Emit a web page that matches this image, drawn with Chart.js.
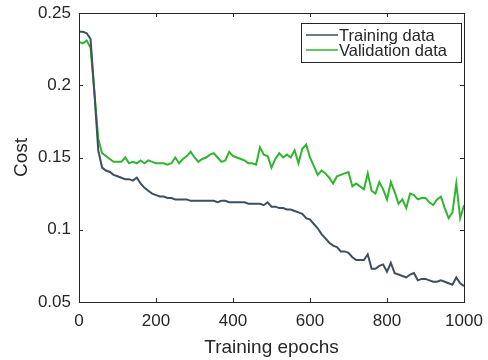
<!DOCTYPE html>
<html>
<head>
<meta charset="utf-8">
<script src="https://cdn.jsdelivr.net/npm/chart.js@4.4.0/dist/chart.umd.min.js"></script>
<style>
  body { margin: 0; background: #fff; }
  #wrap { width: 488px; height: 360px; }
</style>
</head>
<body>
<div id="wrap"><canvas id="costChart" width="488" height="360"></canvas></div>
<script>
// Data (every 10 epochs)
const epochs = [];
for (let e = 0; e <= 1000; e += 10) epochs.push(e);

const trainingCost = [
  0.237, 0.237, 0.236, 0.232, 0.195, 0.155, 0.143, 0.141, 0.140, 0.138,
  0.137, 0.136, 0.135, 0.135, 0.134, 0.136, 0.132, 0.129, 0.127, 0.125,
  0.124, 0.123, 0.123, 0.122, 0.122, 0.121, 0.121, 0.121, 0.121, 0.120,
  0.120, 0.120, 0.120, 0.120, 0.120, 0.120, 0.119, 0.120, 0.120, 0.119,
  0.119, 0.119, 0.119, 0.119, 0.118, 0.118, 0.118, 0.118, 0.117, 0.119,
  0.116, 0.116, 0.115, 0.115, 0.114, 0.114, 0.113, 0.112, 0.111, 0.108,
  0.107, 0.104, 0.101, 0.097, 0.094, 0.091, 0.089, 0.088, 0.085, 0.085,
  0.084, 0.081, 0.079, 0.079, 0.079, 0.083, 0.073, 0.073, 0.075, 0.076,
  0.071, 0.077, 0.070, 0.069, 0.068, 0.067, 0.069, 0.070, 0.065, 0.066,
  0.066, 0.065, 0.064, 0.064, 0.065, 0.064, 0.063, 0.062, 0.067, 0.063,
  0.061
];

const validationCost = [
  0.230, 0.229, 0.231, 0.226, 0.195, 0.163, 0.153, 0.151, 0.149, 0.147,
  0.147, 0.147, 0.150, 0.146, 0.147, 0.146, 0.148, 0.146, 0.148, 0.147,
  0.146, 0.146, 0.146, 0.145, 0.146, 0.150, 0.146, 0.149, 0.151, 0.154,
  0.150, 0.147, 0.149, 0.150, 0.152, 0.153, 0.150, 0.147, 0.148, 0.154,
  0.151, 0.150, 0.149, 0.148, 0.146, 0.146, 0.145, 0.157, 0.152, 0.151,
  0.143, 0.149, 0.153, 0.150, 0.152, 0.150, 0.155, 0.146, 0.156, 0.159,
  0.150, 0.144, 0.138, 0.141, 0.139, 0.136, 0.132, 0.137, 0.138, 0.139,
  0.140, 0.130, 0.132, 0.130, 0.128, 0.139, 0.127, 0.125, 0.133, 0.128,
  0.121, 0.133, 0.126, 0.118, 0.121, 0.115, 0.125, 0.124, 0.121, 0.122,
  0.122, 0.119, 0.117, 0.121, 0.123, 0.115, 0.108, 0.112, 0.132, 0.108,
  0.117
];

const xTicks = [0, 200, 400, 600, 800, 1000];
const yTicks = [0.05, 0.1, 0.15, 0.2, 0.25];
const seriesNames = ['Training data', 'Validation data'];

const trainColor = '#3e4f5e';
const validColor = '#2fb52f';
const axisColor = '#262626';
const fontFamily = '"Liberation Sans", Arial, sans-serif';

function toPoints(values) {
  return values.map((v, i) => ({ x: epochs[i], y: v }));
}

// MATLAB style box with inward ticks on all four sides
const boxPlugin = {
  id: 'boxPlugin',
  afterDatasetsDraw(chart) {
    const { ctx, chartArea: a, scales } = chart;
    const len = 4;
    ctx.save();
    ctx.strokeStyle = axisColor;
    ctx.lineWidth = 1;
    ctx.beginPath();
    xTicks.forEach(t => {
      const px = Math.round(scales.x.getPixelForValue(t)) + 0.5;
      ctx.moveTo(px, a.bottom); ctx.lineTo(px, a.bottom - len);
      ctx.moveTo(px, a.top); ctx.lineTo(px, a.top + len);
    });
    yTicks.forEach(t => {
      const py = Math.round(scales.y.getPixelForValue(t)) + 0.5;
      ctx.moveTo(a.left, py); ctx.lineTo(a.left + len, py);
      ctx.moveTo(a.right, py); ctx.lineTo(a.right - len, py);
    });
    ctx.stroke();
    ctx.strokeRect(Math.round(a.left) + 0.5, Math.round(a.top) + 0.5,
      Math.round(a.right - a.left), Math.round(a.bottom - a.top));
    ctx.restore();
  }
};

// legend drawn inside the top right corner
const insideLegend = {
  id: 'insideLegend',
  afterDraw(chart) {
    const { ctx, chartArea: a } = chart;
    const boxW = 160, boxH = 39;
    const x0 = Math.round(a.right) - 3 - boxW;
    const y0 = Math.round(a.top) + 10;
    ctx.save();
    ctx.fillStyle = '#fff';
    ctx.fillRect(x0, y0, boxW, boxH);
    ctx.strokeStyle = axisColor;
    ctx.lineWidth = 1;
    ctx.strokeRect(x0 + 0.5, y0 + 0.5, boxW, boxH);
    ctx.font = '16.5px ' + fontFamily;
    ctx.textBaseline = 'middle';
    [trainColor, validColor].forEach((c, i) => {
      const y = y0 + 12 + i * 15;
      ctx.strokeStyle = c;
      ctx.lineWidth = 1.5;
      ctx.beginPath();
      ctx.moveTo(x0 + 5, y); ctx.lineTo(x0 + 37, y);
      ctx.stroke();
      ctx.fillStyle = axisColor;
      ctx.fillText(seriesNames[i], x0 + 38, y + 1);
    });
    ctx.restore();
  }
};

new Chart(document.getElementById('costChart'), {
  type: 'line',
  data: {
    datasets: [
      {
        label: seriesNames[0],
        data: toPoints(trainingCost),
        borderColor: trainColor,
        borderWidth: 2,
        pointRadius: 0,
        tension: 0
      },
      {
        label: seriesNames[1],
        data: toPoints(validationCost),
        borderColor: validColor,
        borderWidth: 2,
        pointRadius: 0,
        tension: 0
      }
    ]
  },
  options: {
    responsive: false,
    animation: false,
    devicePixelRatio: 1,
    layout: { padding: { top: 13, right: 24, left: 0, bottom: 0 } },
    plugins: {
      legend: { display: false },
      tooltip: { enabled: false }
    },
    scales: {
      x: {
        type: 'linear',
        min: 0,
        max: 1000,
        afterBuildTicks: s => { s.ticks = xTicks.map(v => ({ value: v })); },
        afterFit: s => { s.height = 58; s.paddingLeft = 0; s.paddingRight = 0; },
        grid: { display: false, drawTicks: false },
        border: { display: false },
        ticks: {
          color: axisColor,
          padding: 9,
          maxRotation: 0,
          font: { family: fontFamily, size: 17 },
          callback: v => String(v)
        },
        title: {
          display: true,
          text: 'Training epochs',
          color: axisColor,
          padding: { top: 0, bottom: 1 },
          font: { family: fontFamily, size: 19 }
        }
      },
      y: {
        min: 0.05,
        max: 0.25,
        afterBuildTicks: s => { s.ticks = yTicks.map(v => ({ value: v })); },
        afterFit: s => { s.width = 79; s.paddingTop = 0; s.paddingBottom = 0; },
        grid: { display: false, drawTicks: false },
        border: { display: false },
        ticks: {
          color: axisColor,
          padding: 8,
          font: { family: fontFamily, size: 17 },
          callback: v => String(v)
        },
        title: {
          display: true,
          text: 'Cost',
          color: axisColor,
          padding: { top: 10, bottom: 0 },
          font: { family: fontFamily, size: 19 }
        }
      }
    }
  },
  plugins: [boxPlugin, insideLegend]
});
</script>
</body>
</html>
